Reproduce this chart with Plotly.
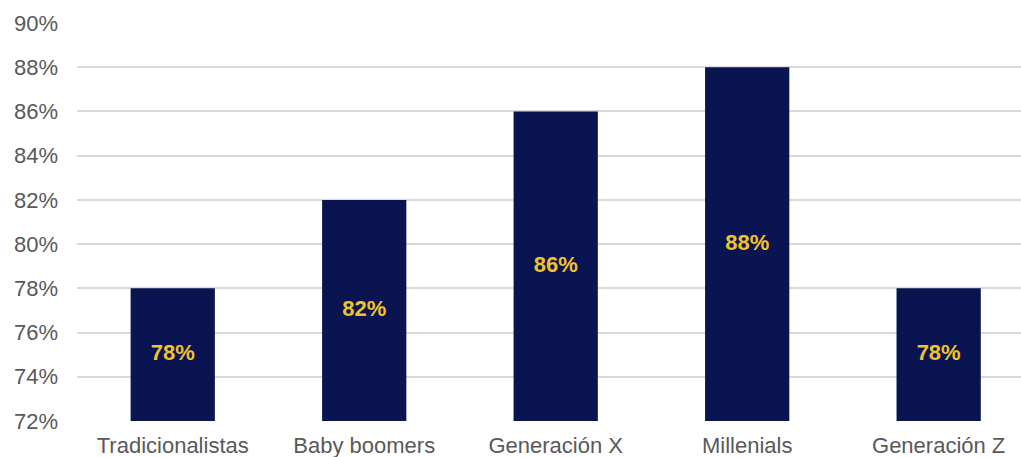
import plotly.graph_objects as go

# Share of respondents per generation (%)
generaciones = ["Tradicionalistas", "Baby boomers", "Generación X", "Millenials", "Generación Z"]
porcentajes = [78, 82, 86, 88, 78]
etiquetas = [f"{v}%" for v in porcentajes]
y_ticks = list(range(72, 91, 2))
y_tick_text = [f"{t}%" for t in y_ticks]
y_min, y_max = 72, 90

x_pos = list(range(len(generaciones)))
# labels sit halfway up the visible part of each bar
label_y = [(y_min + v) / 2 for v in porcentajes]

fig = go.Figure()
fig.add_trace(
    go.Bar(
        x=x_pos,
        y=porcentajes,
        width=0.44,
        marker=dict(color="#091451", line=dict(width=0)),
        hoverinfo="skip",
    )
)
fig.add_trace(
    go.Scatter(
        x=x_pos,
        y=label_y,
        mode="text",
        text=etiquetas,
        textposition="middle center",
        textfont=dict(family="Liberation Sans, Arial", size=22, color="#F2C12E", weight="bold"),
        hoverinfo="skip",
    )
)

fig.update_layout(
    width=1021,
    height=457,
    margin=dict(l=77, r=0, t=23, b=36),
    paper_bgcolor="white",
    plot_bgcolor="white",
    showlegend=False,
    font=dict(family="Liberation Sans, Arial", color="#595959", size=22),
)

fig.update_xaxes(
    range=[-0.5, 4.43],
    tickvals=x_pos,
    ticktext=generaciones,
    showgrid=False,
    showline=False,
    zeroline=False,
    ticks="",
    tickfont=dict(size=22, color="#595959"),
    ticklabelstandoff=9,
)

fig.update_yaxes(
    range=[y_min, y_max],
    tickvals=y_ticks,
    ticktext=y_tick_text,
    showgrid=True,
    gridcolor="#D9D9D9",
    gridwidth=1.5,
    zeroline=False,
    showline=False,
    ticks="",
    tickfont=dict(size=22, color="#595959"),
    ticklabelstandoff=18,
)

fig.write_html("out.html")
